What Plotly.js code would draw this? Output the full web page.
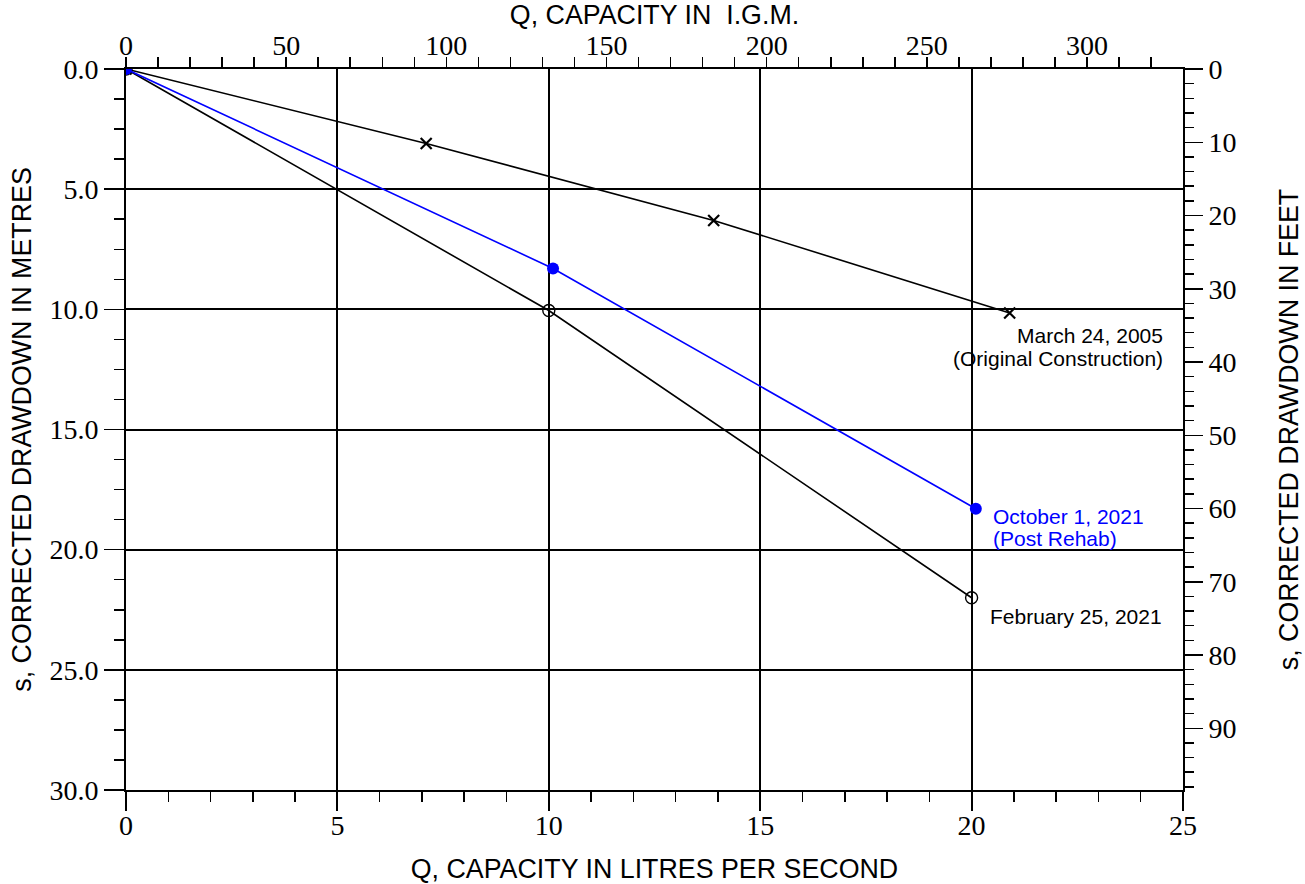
<!DOCTYPE html>
<html>
<head>
<meta charset="utf-8">
<script src="https://cdn.plot.ly/plotly-3.0.1.min.js"></script>
<style>html,body{margin:0;padding:0;background:#fff;}#chart{width:1305px;height:884px;}</style>
</head>
<body>
<div id="chart"></div>
<script>
// ---- data ----
const flow2005 = [0, 7.1, 13.9, 20.9];          // L/s
const draw2005 = [0, 3.1, 6.3, 10.15];          // m
const flowFeb2021 = [0, 10.0, 20.0];            // L/s
const drawFeb2021 = [0, 10.05, 22.0];           // m
const flowOct2021 = [0, 10.1, 20.1];            // L/s
const drawOct2021 = [0, 8.3, 18.3];             // m
const label2005 = ["March 24, 2005", "(Original Construction)"];
const labelOct2021 = ["October 1, 2021", "(Post Rehab)"];
const labelFeb2021 = ["February 25, 2021"];

// unit conversions for secondary axes
const IGM_PER_LPS = 60 / 4.54609;
const FT_PER_M = 3.28084;
const X_MAX = 25, Y_MAX = 30;

const serif = {family: "Liberation Serif, Times New Roman, serif", size: 28, color: "#000"};
const sans = {family: "Liberation Sans, Arial, sans-serif", size: 26.8, color: "#000"};
const annFont = {family: "Liberation Sans, Arial, sans-serif", size: 21, color: "#000"};

const traces = [
  {x: flow2005, y: draw2005, type: "scatter", mode: "lines+markers", name: label2005.join(" "),
   line: {color: "#000", width: 1.6},
   marker: {symbol: "x-thin-open", size: 11, color: "#000", line: {color: "#000", width: 2.2}}},
  {x: flowFeb2021, y: drawFeb2021, type: "scatter", mode: "lines+markers", name: labelFeb2021[0],
   line: {color: "#000", width: 1.6},
   marker: {symbol: "circle-open", size: 12, color: "#000", line: {color: "#000", width: 1.4}}},
  {x: flowOct2021, y: drawOct2021, type: "scatter", mode: "lines+markers", name: labelOct2021.join(" "),
   line: {color: "#0000ff", width: 1.6},
   marker: {symbol: "circle", size: 12, color: "#0000ff"}},
  // invisible traces to activate secondary axes
  {x: [0, X_MAX * IGM_PER_LPS], y: [0, 0], xaxis: "x2", yaxis: "y", mode: "markers",
   marker: {opacity: 0}, hoverinfo: "skip", showlegend: false},
  {x: [0, 0], y: [0, Y_MAX * FT_PER_M], xaxis: "x", yaxis: "y2", mode: "markers",
   marker: {opacity: 0}, hoverinfo: "skip", showlegend: false}
];

const ann = [];
label2005.forEach((t, i) => ann.push({x: 24.57, y: 11.07 + i * 0.96, xref: "x", yref: "y", text: t,
  showarrow: false, xanchor: "right", yanchor: "middle", font: annFont}));
labelOct2021.forEach((t, i) => ann.push({x: 20.46, y: 18.6 + i * 0.92, xref: "x", yref: "y", text: t,
  showarrow: false, xanchor: "left", yanchor: "middle", font: Object.assign({}, annFont, {color: "#0000ff"})}));
labelFeb2021.forEach((t, i) => ann.push({x: 20.39, y: 22.76, xref: "x", yref: "y", text: t,
  showarrow: false, xanchor: "left", yanchor: "middle", font: annFont}));

const layout = {
  width: 1305, height: 884,
  margin: {l: 126, r: 122, t: 69, b: 94, pad: 0},
  paper_bgcolor: "#fff", plot_bgcolor: "#fff",
  showlegend: false,
  xaxis: {
    range: [0, X_MAX], dtick: 5, tick0: 0,
    showline: true, linecolor: "#000", linewidth: 2,
    ticks: "outside", ticklen: 19, tickwidth: 2, tickcolor: "#000",
    showgrid: true, gridcolor: "#000", gridwidth: 2, zeroline: false,
    tickfont: serif, ticklabelstandoff: -10,
    minor: {dtick: 1, ticks: "outside", ticklen: 10, tickwidth: 1.5, tickcolor: "#000", showgrid: false},
    title: {text: "Q, CAPACITY IN LITRES PER SECOND", font: sans, standoff: 24},
    automargin: false
  },
  xaxis2: {
    overlaying: "x", side: "top", anchor: "y",
    range: [0, X_MAX * IGM_PER_LPS], dtick: 50, tick0: 0,
    showline: true, linecolor: "#000", linewidth: 2,
    ticks: "outside", ticklen: 10, tickwidth: 1.5, tickcolor: "#000",
    showgrid: false, zeroline: false,
    tickfont: serif, ticklabelstandoff: -9,
    minor: {dtick: 10, ticks: "outside", ticklen: 10, tickwidth: 1.5, tickcolor: "#000", showgrid: false},
    title: {text: "Q, CAPACITY IN  I.G.M.", font: sans, standoff: 0},
    automargin: false
  },
  yaxis: {
    range: [Y_MAX, 0], dtick: 5, tick0: 0, tickformat: ".1f",
    showline: true, linecolor: "#000", linewidth: 2,
    ticks: "outside", ticklen: 20, tickwidth: 1.5, tickcolor: "#000",
    showgrid: true, gridcolor: "#000", gridwidth: 2, zeroline: false,
    tickfont: serif,
    minor: {dtick: 1.25, ticks: "outside", ticklen: 10, tickwidth: 1.5, tickcolor: "#000", showgrid: false},
    title: {text: "s, CORRECTED DRAWDOWN IN METRES", font: sans, standoff: 10},
    automargin: false
  },
  yaxis2: {
    overlaying: "y", side: "right", anchor: "x",
    range: [Y_MAX * FT_PER_M, 0], dtick: 10, tick0: 0,
    showline: true, linecolor: "#000", linewidth: 2,
    ticks: "outside", ticklen: 18, tickwidth: 1.5, tickcolor: "#000",
    showgrid: false, zeroline: false,
    tickfont: serif,
    minor: {dtick: 2, ticks: "outside", ticklen: 9, tickwidth: 1.5, tickcolor: "#000", showgrid: false},
    title: {text: "s, CORRECTED DRAWDOWN IN FEET", font: sans, standoff: 44},
    automargin: false
  },
  annotations: ann
};

Plotly.newPlot("chart", traces, layout, {staticPlot: true, displayModeBar: false});
</script>
</body>
</html>
